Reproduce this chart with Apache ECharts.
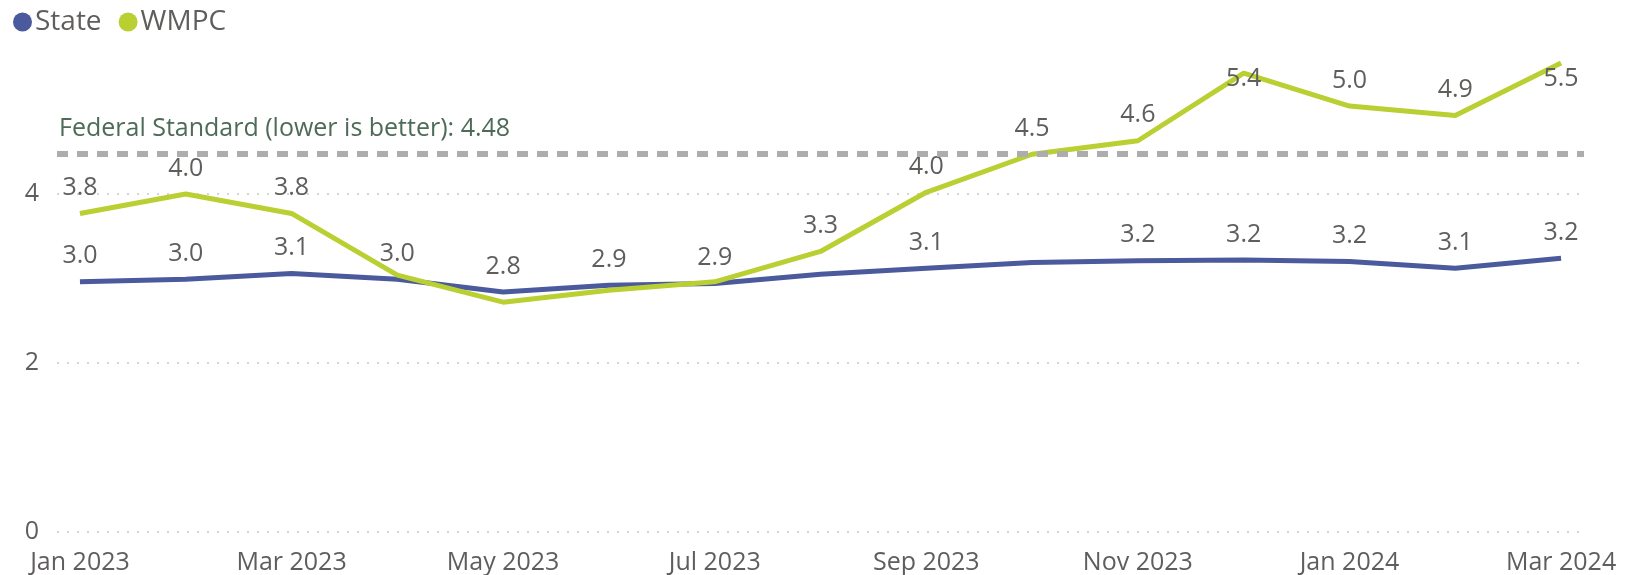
<!DOCTYPE html>
<html><head><meta charset="utf-8">
<script src="https://cdn.jsdelivr.net/npm/echarts@6/dist/echarts.min.js"></script>
<style>html,body{margin:0;padding:0;background:#fff}#c{width:1636px;height:575px}</style>
</head><body><div id="c"></div>
<script>
const months = ["Jan 2023","Feb 2023","Mar 2023","Apr 2023","May 2023","Jun 2023","Jul 2023","Aug 2023","Sep 2023","Oct 2023","Nov 2023","Dec 2023","Jan 2024","Feb 2024","Mar 2024"];
const stateValues = [2.96, 2.99, 3.06, 2.99, 2.84, 2.92, 2.94, 3.05, 3.12, 3.19, 3.21, 3.22, 3.20, 3.12, 3.24];
const wmpcValues  = [3.77, 4.00, 3.77, 3.04, 2.72, 2.86, 2.96, 3.32, 4.02, 4.47, 4.63, 5.43, 5.04, 4.93, 5.55];
const federalStandard = 4.48;
const xTickIdx = [0, 2, 4, 6, 8, 10, 12, 14];
const yTicks = [0, 2, 4];

// which labels Power BI kept visible
const stateLabelShown = [1,1,1,1,1,1,1,0,1,0,1,1,1,1,1];
const wmpcLabelShown  = [1,1,1,0,0,0,0,1,1,1,1,1,1,1,1];

const FONT = "'Open Sans', sans-serif";
const TXT = '#605E5C';

function mk(values, shown, special) {
  return values.map((v, i) => {
    const o = { value: [i, v] };
    const lab = { show: !!shown[i] };
    if (special && special[i]) Object.assign(lab, special[i]);
    o.label = lab;
    return o;
  });
}
const wmpcSpecial = {11: {position: 'inside', offset: [0, 6]}, 14: {position: 'inside', offset: [0, 16]}};

const chart = echarts.init(document.getElementById('c'), null, {renderer: 'canvas'});
chart.setOption({
  animation: false,
  textStyle: {fontFamily: FONT},
  color: ['#4A5A9C', '#BACF31'],
  legend: {
    left: 8, top: 3, icon: 'circle', itemWidth: 19, itemHeight: 19, itemGap: 17,
    textStyle: {fontFamily: FONT, fontSize: 28, color: TXT, padding: [0, 0, 0, -2]},
    data: ['State', 'WMPC']
  },
  grid: {left: 57, right: 52, top: 63, bottom: 43, containLabel: false},
  xAxis: {
    type: 'value', min: -0.217, max: 14.217,
    axisLine: {show: false}, axisTick: {show: false}, splitLine: {show: false},
    axisLabel: {
      customValues: xTickIdx, fontFamily: FONT, fontSize: 25, color: TXT, margin: 18,
      formatter: v => months[Math.round(v)]
    }
  },
  yAxis: {
    type: 'value', min: 0, max: 5.55, interval: 2,
    axisLine: {show: false}, axisTick: {show: false},
    axisLabel: {customValues: yTicks, fontFamily: FONT, fontSize: 25, color: TXT, margin: 18},
    splitLine: {show: true, lineStyle: {type: [2, 8], width: 1.5, color: ['#C8C8C8','#C8C8C8','#C8C8C8','rgba(0,0,0,0)']}}
  },
  series: [
    {
      name: 'State', type: 'line', data: mk(stateValues, stateLabelShown),
      symbol: 'circle', symbolSize: 0.01, showSymbol: true, lineStyle: {width: 5}, z: 3,
      label: {show: true, position: 'top', distance: 13, fontFamily: FONT, fontSize: 25, color: TXT,
        formatter: p => p.value[1].toFixed(1)},
      markLine: {
        silent: true, symbol: 'none', animation: false,
        lineStyle: {color: '#ADADAD', type: [11, 9], width: 6},
        label: {show: true, position: 'insideStartTop', distance: [2, 12], fontFamily: FONT, fontSize: 25,
          color: '#4D6B58', formatter: 'Federal Standard (lower is better): ' + federalStandard},
        data: [{yAxis: federalStandard}]
      }
    },
    {
      name: 'WMPC', type: 'line', data: mk(wmpcValues, wmpcLabelShown, wmpcSpecial),
      symbol: 'circle', symbolSize: 0.01, showSymbol: true, lineStyle: {width: 5}, z: 4,
      label: {show: true, position: 'top', distance: 13, fontFamily: FONT, fontSize: 25, color: TXT,
        formatter: p => p.value[1].toFixed(1)}
    }
  ]
});
</script></body></html>
